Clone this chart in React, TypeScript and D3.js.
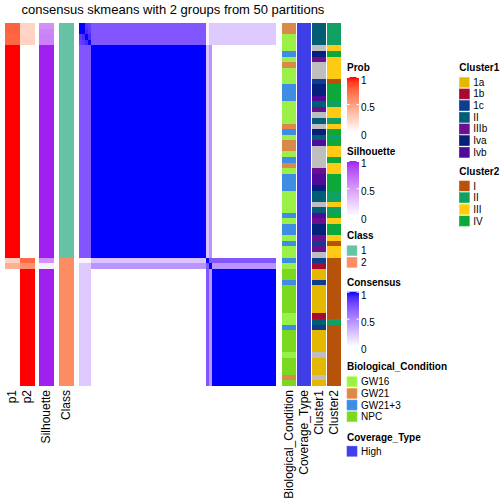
import React from "react";
import * as d3 from "d3";

// ---------------- data ----------------
const prob1 = [
  0.78, 0.78, 0.76, 0.76,
  1, 1, 1, 1, 1, 1, 1, 1, 1, 1,
  1, 1, 1, 1, 1, 1, 1, 1, 1, 1,
  1, 1, 1, 1, 1, 1, 1, 1, 1, 1,
  1, 1, 1, 1, 1, 1, 1, 1,
  0.25, 0.42,
  0, 0, 0, 0, 0, 0, 0, 0, 0, 0,
  0, 0, 0, 0, 0, 0, 0, 0, 0, 0, 0,
];
const prob2 = [
  0.22, 0.22, 0.24, 0.24,
  0, 0, 0, 0, 0, 0, 0, 0, 0, 0,
  0, 0, 0, 0, 0, 0, 0, 0, 0, 0,
  0, 0, 0, 0, 0, 0, 0, 0, 0, 0,
  0, 0, 0, 0, 0, 0, 0, 0,
  0.75, 0.58,
  1, 1, 1, 1, 1, 1, 1, 1, 1, 1,
  1, 1, 1, 1, 1, 1, 1, 1, 1, 1, 1,
];
const silhouette = [
  0.55, 0.6, 0.62, 0.62,
  1, 1, 1, 1, 1, 1, 1, 1, 1, 1,
  1, 1, 1, 1, 1, 1, 1, 1, 1, 1,
  1, 1, 1, 1, 1, 1, 1, 1, 1, 1,
  1, 1, 1, 1, 1, 1, 1, 1,
  0.55, 0.08,
  1, 1, 1, 1, 1, 1, 1, 1, 1, 1,
  1, 1, 1, 1, 1, 1, 1, 1, 1, 1, 1,
];
const classLabel = [
  "1", "1", "1", "1",
  "1", "1", "1", "1", "1", "1", "1", "1", "1", "1",
  "1", "1", "1", "1", "1", "1", "1", "1", "1", "1",
  "1", "1", "1", "1", "1", "1", "1", "1", "1", "1",
  "1", "1", "1", "1", "1", "1", "1", "1",
  "2", "2",
  "2", "2", "2", "2", "2", "2", "2", "2", "2", "2",
  "2", "2", "2", "2", "2", "2", "2", "2", "2", "2", "2",
];
// consensus block membership of each sample (rows/columns in order)
const consensusGroup = [
  "A", "A", "A", "A",
  "B", "B", "B", "B", "B", "B", "B", "B", "B", "B",
  "B", "B", "B", "B", "B", "B", "B", "B", "B", "B",
  "B", "B", "B", "B", "B", "B", "B", "B", "B", "B",
  "B", "B", "B", "B", "B", "B", "B", "B",
  "C", "D",
  "E", "E", "E", "E", "E", "E", "E", "E", "E", "E",
  "E", "E", "E", "E", "E", "E", "E", "E", "E", "E", "E",
];
const groupPairs: [string, string, number][] = [
  ["A", "B", 0.72], ["A", "C", 0.05], ["A", "D", 0.22], ["A", "E", 0.22],
  ["B", "B", 1], ["B", "C", 0.25], ["B", "D", 0.45], ["B", "E", 0],
  ["C", "C", 1], ["C", "D", 0.72], ["C", "E", 0.72],
  ["D", "D", 1], ["D", "E", 0.45],
  ["E", "E", 1],
];
const blockA = [
  [1, 1, 0.85, 0.82],
  [1, 1, 0.9, 0.85],
  [0.85, 0.9, 1, 0.9],
  [0.82, 0.85, 0.9, 1],
];
const bioCondition = [
  "GW21", "GW21", "GW16", "GW16", "GW16", "GW21+3", "GW16", "GW21", "GW16", "GW16",
  "GW16", "GW21+3", "GW21+3", "GW21+3", "GW16", "GW16", "GW16", "GW16", "GW21", "GW21+3",
  "GW16", "GW21", "GW21", "GW16", "GW21+3", "GW21", "GW16", "GW21+3", "GW21+3", "GW21+3",
  "GW16", "GW16", "GW16", "GW16", "GW21+3", "GW16", "GW21+3", "GW21+3", "GW16", "GW21+3",
  "GW16", "GW16", "GW21+3", "GW16", "NPC", "NPC", "GW21+3", "NPC", "NPC", "NPC",
  "NPC", "NPC", "GW16", "GW16", "GW21+3", "NPC", "NPC", "NPC", "NPC", "GW16",
  "NPC", "NPC", "NPC", "GW21", "NPC",
];
const coverageType = [
  "High", "High", "High", "High", "High", "High", "High", "High", "High", "High",
  "High", "High", "High", "High", "High", "High", "High", "High", "High", "High",
  "High", "High", "High", "High", "High", "High", "High", "High", "High", "High",
  "High", "High", "High", "High", "High", "High", "High", "High", "High", "High",
  "High", "High", "High", "High", "High", "High", "High", "High", "High", "High",
  "High", "High", "High", "High", "High", "High", "High", "High", "High", "High",
  "High", "High", "High", "High", "High",
];
const cluster1 = [
  "II", "II", "II", "II", "NA", "Iva", "IIIb", "NA", "NA", "NA",
  "1c", "Iva", "Iva", "Ivb", "II", "IIIb", "NA", "II", "NA", "Iva",
  "II", "Ivb", "NA", "NA", "NA", "NA", "IIIb", "Ivb", "Ivb", "Iva",
  "II", "II", "NA", "II", "Ivb", "IIIb", "Iva", "Iva", "IIIb", "1c",
  "IIIb", "NA", "1c", "1b", "1a", "1a", "1c", "1a", "1a", "1a",
  "1a", "1a", "1b", "II", "1c", "1a", "1a", "1a", "1a", "NA",
  "1a", "1a", "1a", "NA", "1a",
];
const cluster2 = [
  "II", "II", "II", "II", "III", "IV", "III", "III", "III", "III",
  "I", "IV", "IV", "IV", "II", "III", "III", "II", "III", "IV",
  "II", "IV", "III", "III", "IV", "III", "III", "IV", "IV", "IV",
  "II", "II", "III", "II", "IV", "III", "IV", "IV", "III", "I",
  "III", "III", "I", "I", "I", "I", "I", "I", "I", "I",
  "I", "I", "I", "II", "I", "I", "I", "I", "I", "I",
  "I", "I", "I", "I", "I",
];

const classLevels = ["1", "2"];
const bioLevels = ["GW16", "GW21", "GW21+3", "NPC"];
const coverageLevels = ["High"];
const cluster1Levels = ["1a", "1b", "1c", "II", "IIIb", "Iva", "Ivb"];
const cluster2Levels = ["I", "II", "III", "IV"];
const gradientTicks = [0, 0.5, 1];

const TITLE = "consensus skmeans with 2 groups from 50 partitions";

// ---------------- colours ----------------
const classColor = d3.scaleOrdinal<string, string>().domain(classLevels).range(["#66C2A5", "#FC8D62"]);
const bioColor = d3.scaleOrdinal<string, string>().domain(bioLevels).range(["#9BF047", "#D9894A", "#3E8CE4", "#7BD820"]);
const coverageColor = d3.scaleOrdinal<string, string>().domain(coverageLevels).range(["#3F3FE8"]);
const cluster1Color = d3.scaleOrdinal<string, string>().domain(cluster1Levels)
  .range(["#E5B800", "#A8092F", "#0E3D8E", "#005D75", "#6A0F8E", "#03207A", "#4E0A9A"]);
const cluster2Color = d3.scaleOrdinal<string, string>().domain(cluster2Levels)
  .range(["#B6520A", "#10A064", "#FFCA14", "#0DA83A"]);
const NA_COLOR = "#BEBEBE";
const probInterp = d3.interpolateLab("#FFFFFF", "#FF0000");
const silInterp = d3.interpolateLab("#FFFFFF", "#A020F0");
const consInterp = d3.interpolateLab("#FFFFFF", "#0000FF");

const FONT = "'Liberation Sans', Arial, Helvetica, sans-serif";

function consensusValue(i: number, j: number): number {
  const gi = consensusGroup[i];
  const gj = consensusGroup[j];
  if (gi === "A" && gj === "A") return blockA[i][j];
  const hit = groupPairs.find((p) => (p[0] === gi && p[1] === gj) || (p[0] === gj && p[1] === gi));
  return hit ? hit[2] : 0;
}

// ---------------- layout ----------------
const TOP = 23;
const BOTTOM = 386;

type Col = { name: string; x0: number; x1: number; color: (i: number) => string; labelX: number };

function GradientLegend(props: { id: string; title: string; x: number; titleY: number; barTop: number; barBottom: number; labelTop: number; labelBottom: number; interp: (t: number) => string }) {
  const { id, title, x, titleY, barTop, barBottom, labelTop, labelBottom, interp } = props;
  const stops = d3.range(0, 1.0001, 0.1);
  const tickScale = d3.scaleLinear().domain([0, 1]).range([barBottom - 0.5, barTop + 0.5]);
  const labelScale = d3.scaleLinear().domain([0, 1]).range([labelBottom, labelTop]);
  const w = 12;
  return (
    <g>
      <defs>
        <linearGradient id={id} x1="0" y1="1" x2="0" y2="0">
          {stops.map((s) => (
            <stop key={s} offset={s} stopColor={interp(s)} />
          ))}
        </linearGradient>
      </defs>
      <text x={x} y={titleY} fontSize={10} fontWeight="bold" fontFamily={FONT}>{title}</text>
      <rect x={x} y={barTop} width={w} height={barBottom - barTop} fill={`url(#${id})`} />
      {gradientTicks.map((t) => (
        <g key={t}>
          <line x1={x} x2={x + 2.5} y1={tickScale(t)} y2={tickScale(t)} stroke="#FFFFFF" strokeWidth={1} />
          <line x1={x + w - 2.5} x2={x + w} y1={tickScale(t)} y2={tickScale(t)} stroke="#FFFFFF" strokeWidth={1} />
          <text x={x + w + 2} y={labelScale(t)} dy="0.35em" fontSize={10} fontFamily={FONT}>{String(t)}</text>
        </g>
      ))}
    </g>
  );
}

function DiscreteLegend(props: { title: string; x: number; titleY: number; top: number; levels: string[]; color: (s: string) => string }) {
  const { title, x, titleY, top, levels, color } = props;
  const step = 11.67;
  return (
    <g>
      <text x={x} y={titleY} fontSize={10} fontWeight="bold" fontFamily={FONT}>{title}</text>
      {levels.map((lv, k) => (
        <g key={lv}>
          <rect x={x} y={top + k * step} width={10} height={10} fill={color(lv)} stroke={d3.color(color(lv))!.brighter(0.4).formatHex()} strokeWidth={0.6} />
          <text x={x + 14} y={top + k * step + 5} dy="0.35em" fontSize={10} fontFamily={FONT}>{lv}</text>
        </g>
      ))}
    </g>
  );
}

export default function App() {
  const idx = d3.range(prob1.length).map(String);
  const y = d3.scaleBand<string>().domain(idx).range([TOP, BOTTOM]).padding(0);
  const xh = d3.scaleBand<string>().domain(idx).range([79, 276]).padding(0);

  const cols: Col[] = [
    { name: "p1", x0: 5, x1: 20, color: (i) => probInterp(prob1[i]), labelX: 12.5 },
    { name: "p2", x0: 20, x1: 34.5, color: (i) => probInterp(prob2[i]), labelX: 27.2 },
    { name: "Silhouette", x0: 39, x1: 54, color: (i) => silInterp(silhouette[i]), labelX: 46.5 },
    { name: "Class", x0: 59, x1: 74, color: (i) => classColor(classLabel[i]), labelX: 66.5 },
    { name: "Biological_Condition", x0: 282, x1: 296.3, color: (i) => bioColor(bioCondition[i]), labelX: 289 },
    { name: "Coverage_Type", x0: 297.2, x1: 311.3, color: (i) => coverageColor(coverageType[i]), labelX: 304.2 },
    { name: "Cluster1", x0: 312.2, x1: 326.3, color: (i) => (cluster1[i] === "NA" ? NA_COLOR : cluster1Color(cluster1[i])), labelX: 319.2 },
    { name: "Cluster2", x0: 327.2, x1: 341.3, color: (i) => (cluster2[i] === "NA" ? NA_COLOR : cluster2Color(cluster2[i])), labelX: 334.2 },
  ];

  return (
    <svg width={504} height={504} style={{ position: "absolute", left: 0, top: 0, background: "#FFFFFF" }}>
      <rect x={0} y={0} width={504} height={504} fill="#FFFFFF" />
      <text x={173} y={13.5} fontSize={13} textAnchor="middle" fontFamily={FONT}>{TITLE}</text>

      {/* annotation columns */}
      {cols.map((c) => (
        <g key={c.name} shapeRendering="crispEdges">
          {idx.map((s, i) => (
            <rect key={s} x={c.x0} y={y(s)!} width={c.x1 - c.x0} height={y.bandwidth() + 0.4} fill={c.color(i)} />
          ))}
        </g>
      ))}

      {/* consensus heatmap */}
      <g shapeRendering="crispEdges">
        {idx.map((r, i) =>
          idx.map((c, j) => (
            <rect key={r + "_" + c} x={xh(c)!} y={y(r)!} width={xh.bandwidth() + 0.4} height={y.bandwidth() + 0.4} fill={consInterp(consensusValue(i, j))} />
          ))
        )}
      </g>

      {/* column names */}
      {cols.map((c) => (
        <text key={"lab" + c.name} transform={`translate(${c.labelX + 3.6},390) rotate(-90)`} textAnchor="end" fontSize={12} fontFamily={FONT}>{c.name}</text>
      ))}

      {/* legends */}
      <GradientLegend id="gProb" title="Prob" x={347} titleY={71} barTop={77} barBottom={132} labelTop={80} labelBottom={135} interp={probInterp} />
      <GradientLegend id="gSil" title="Silhouette" x={347} titleY={155} barTop={161} barBottom={216.5} labelTop={163.5} labelBottom={219.3} interp={silInterp} />
      <DiscreteLegend title="Class" x={347} titleY={239} top={245.7} levels={classLevels} color={(s) => classColor(s)} />
      <GradientLegend id="gCons" title="Consensus" x={347} titleY={286} barTop={291.7} barBottom={346.7} labelTop={295} labelBottom={349.5} interp={consInterp} />
      <DiscreteLegend title="Biological_Condition" x={347} titleY={370} top={376.7} levels={bioLevels} color={(s) => bioColor(s)} />
      <DiscreteLegend title="Coverage_Type" x={347} titleY={440.5} top={446.2} levels={coverageLevels} color={(s) => coverageColor(s)} />
      <DiscreteLegend title="Cluster1" x={459.3} titleY={71} top={77.3} levels={cluster1Levels} color={(s) => cluster1Color(s)} />
      <DiscreteLegend title="Cluster2" x={459.3} titleY={175} top={181} levels={cluster2Levels} color={(s) => cluster2Color(s)} />
    </svg>
  );
}
